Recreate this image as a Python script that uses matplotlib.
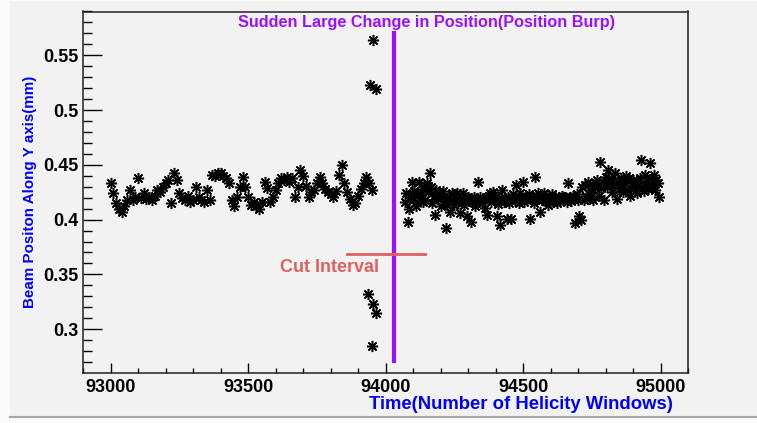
import matplotlib
matplotlib.use("Agg")
import matplotlib.pyplot as plt
import numpy as np
from matplotlib.patches import Rectangle
from matplotlib.lines import Line2D

plt.rcParams['font.family'] = ['Liberation Sans', 'DejaVu Sans']
plt.rcParams['font.weight'] = 'bold'

# beam position before the burp, one reading every 10 windows from 93000
left_start = 93000
left_step = 10
left_y = [
    0.433, 0.424, 0.415, 0.410, 0.407, 0.412, 0.418, 0.427, 0.418, 0.421,
    0.438, 0.420, 0.424, 0.419, 0.421, 0.418, 0.422, 0.427, 0.425, 0.430,
    0.433, 0.436, 0.415, 0.443, 0.436, 0.424, 0.420, 0.418, 0.422, 0.416,
    0.418, 0.430, 0.421, 0.418, 0.416, 0.427, 0.418, 0.441, 0.440, 0.443,
    0.443, 0.440, 0.438, 0.433, 0.418, 0.412, 0.421, 0.430, 0.439, 0.430,
    0.421, 0.413, 0.416, 0.412, 0.410, 0.416, 0.434, 0.429, 0.416, 0.421,
    0.427, 0.433, 0.438, 0.436, 0.439, 0.434, 0.438, 0.421, 0.430, 0.445,
    0.440, 0.431, 0.421, 0.425, 0.427, 0.433, 0.439, 0.433, 0.428, 0.425,
    0.423, 0.421, 0.426, 0.441, 0.450, 0.433, 0.425, 0.419, 0.413, 0.415,
    0.422, 0.428, 0.433, 0.439, 0.433, 0.427,
]

# the burp itself
burp_x = [93953, 93943, 93965, 93938, 93956, 93967, 93951]
burp_y = [0.564, 0.523, 0.519, 0.332, 0.323, 0.315, 0.285]

# beam position after the burp, one reading every 5 windows from 94070
right_start = 94070
right_step = 5
right_y = [
    0.416, 0.424, 0.398, 0.410, 0.421, 0.434, 0.418, 0.426, 0.412, 0.424,
    0.434, 0.420, 0.425, 0.416, 0.428, 0.418, 0.433, 0.425, 0.443, 0.430,
    0.415, 0.422, 0.404, 0.427, 0.419, 0.425, 0.412, 0.421, 0.426, 0.418,
    0.392, 0.413, 0.421, 0.407, 0.424, 0.418, 0.413, 0.420, 0.424, 0.415,
    0.406, 0.419, 0.424, 0.413, 0.417, 0.403, 0.421, 0.419, 0.398, 0.416,
    0.421, 0.412, 0.419, 0.434, 0.418, 0.421, 0.415, 0.419, 0.411, 0.421,
    0.404, 0.419, 0.424, 0.416, 0.425, 0.418, 0.421, 0.403, 0.414, 0.395,
    0.420, 0.427, 0.416, 0.418, 0.401, 0.421, 0.415, 0.401, 0.419, 0.423,
    0.417, 0.432, 0.420, 0.415, 0.424, 0.419, 0.434, 0.416, 0.421, 0.418,
    0.423, 0.401, 0.420, 0.421, 0.415, 0.439, 0.419, 0.424, 0.407, 0.420,
    0.418, 0.424, 0.417, 0.421, 0.413, 0.420, 0.418, 0.423, 0.416, 0.421,
    0.419, 0.415, 0.421, 0.417, 0.422, 0.418, 0.421, 0.420, 0.416, 0.433,
    0.421, 0.417, 0.422, 0.419, 0.397, 0.423, 0.418, 0.403, 0.400, 0.430,
    0.418, 0.432, 0.422, 0.434, 0.419, 0.427, 0.424, 0.418, 0.430, 0.433,
    0.436, 0.422, 0.453, 0.429, 0.434, 0.418, 0.439, 0.430, 0.445, 0.433,
    0.437, 0.425, 0.431, 0.443, 0.419, 0.434, 0.428, 0.438, 0.432, 0.425,
    0.433, 0.440, 0.427, 0.438, 0.422, 0.431, 0.436, 0.429, 0.434, 0.424,
    0.432, 0.438, 0.454, 0.430, 0.426, 0.441, 0.435, 0.428, 0.452, 0.437,
    0.431, 0.441, 0.427, 0.436, 0.433, 0.421,
]

burp_line_x = 94032
burp_line_y = (0.271, 0.570)
cut_x = (93860, 94144)
cut_y = 0.369

left_x = left_start + left_step * np.arange(len(left_y))
right_x = right_start + right_step * np.arange(len(right_y))
xs = np.concatenate([left_x, burp_x, right_x])
ys = np.concatenate([left_y, burp_y, right_y])

canvas = '#f2f2f2'
fig = plt.figure(figsize=(7.57, 4.23), dpi=100, facecolor='#fbfbfb')
fig.patches.append(Rectangle((10 / 757, 1 - 416 / 423), 1, 415 / 423,
                             transform=fig.transFigure, facecolor=canvas,
                             edgecolor='none', zorder=-10))
fig.lines.append(Line2D([10 / 757, 1], [1 - 417 / 423] * 2, transform=fig.transFigure,
                        color='#a8a8a8', lw=1.5))

ax = fig.add_axes([83 / 757, 1 - 373 / 423, 605 / 757, 361.5 / 423])
ax.set_facecolor(canvas)

ax.plot(xs, ys, linestyle='none', marker=(8, 2, 0), markersize=8,
        markeredgewidth=1.1, color='black')

ax.plot([burp_line_x, burp_line_x], burp_line_y, color='#9a10ff', lw=3)
ax.plot(cut_x, [cut_y, cut_y], color='#e06060', lw=2)
ax.text(93796, 0.356, 'Cut Interval', color='#e06060', fontsize=13,
        fontweight='bold', ha='center', va='center')

ax.set_xlim(92900, 95100)
ax.set_ylim(0.26, 0.59)
ax.set_xticks([93000, 93500, 94000, 94500, 95000])
ax.set_xticks(np.arange(92900, 95101, 100), minor=True)
ax.set_yticks([0.3, 0.35, 0.4, 0.45, 0.5, 0.55])
ax.set_yticks(np.arange(0.27, 0.591, 0.01), minor=True)
ax.set_yticklabels(['0.3', '0.35', '0.4', '0.45', '0.5', '0.55'])
ax.tick_params(axis='both', which='both', direction='in', top=False, right=False,
               labelsize=13, width=1)
ax.tick_params(axis='y', which='major', length=13.5, pad=3)
ax.tick_params(axis='y', which='minor', length=6.5)
ax.tick_params(axis='x', which='major', length=7.5, pad=4)
ax.tick_params(axis='x', which='minor', length=3.5)
for lab in ax.get_xticklabels() + ax.get_yticklabels():
    lab.set_fontweight('bold')
for s in ax.spines.values():
    s.set_linewidth(1.1)
    s.set_color('#222222')

fig.text(427 / 757, 1 - 23 / 423, 'Sudden Large Change in Position(Position Burp)',
         color='#9a10ff', fontsize=11.7, fontweight='bold', ha='center', va='center')
fig.text(673 / 757, 1 - 404 / 423, 'Time(Number of Helicity Windows)',
         color='#0000ff', fontsize=13.3, fontweight='bold', ha='right', va='center')
fig.text(30 / 757, 1 - 192 / 423, 'Beam Positon Along Y axis(mm)',
         color='#0000ff', fontsize=10.9, fontweight='bold', ha='center', va='center',
         rotation=90)

fig.savefig('out.png', dpi=100, facecolor=fig.get_facecolor())
